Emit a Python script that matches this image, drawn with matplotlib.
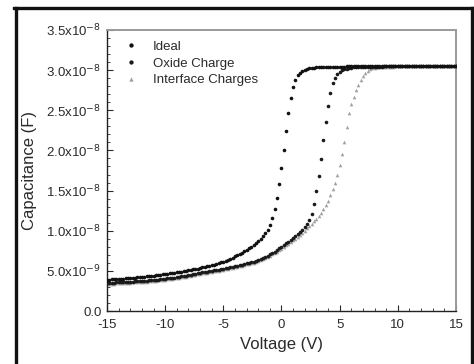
import numpy as np
import matplotlib
matplotlib.use('Agg')
import matplotlib.pyplot as plt
from matplotlib.lines import Line2D
from matplotlib.ticker import MultipleLocator, FixedLocator

plt.rcParams['font.family'] = ['Liberation Sans', 'DejaVu Sans']
plt.rcParams['axes.unicode_minus'] = False

# gate sweep, -15 V to 15 V in 0.2 V steps
voltage = np.round(np.linspace(-15, 15, 151), 1)

# capacitance in units of 1e-8 F
ideal = [
    0.390, 0.392, 0.394, 0.396, 0.398, 0.400, 0.402, 0.404, 0.406, 0.408, 0.410, 0.413, 0.416,
    0.419, 0.422, 0.425, 0.428, 0.431, 0.434, 0.437, 0.440, 0.444, 0.448, 0.452, 0.456, 0.460,
    0.464, 0.468, 0.472, 0.476, 0.480, 0.485, 0.490, 0.495, 0.500, 0.505, 0.511, 0.517, 0.523,
    0.529, 0.535, 0.542, 0.549, 0.556, 0.563, 0.570, 0.578, 0.587, 0.596, 0.605, 0.615,
    0.627, 0.640, 0.653, 0.666, 0.680, 0.695, 0.710, 0.726, 0.743, 0.760, 0.780, 0.801, 0.823,
    0.846, 0.870, 0.898, 0.930, 0.968, 1.015, 1.075, 1.155, 1.265, 1.405, 1.580, 1.780,
    2.010, 2.240, 2.460, 2.650, 2.790, 2.880, 2.935, 2.970, 2.992, 3.006, 3.015, 3.022, 3.027,
    3.031, 3.034, 3.036, 3.038, 3.040, 3.041, 3.042, 3.043, 3.043, 3.044, 3.044, 3.045,
    3.045, 3.045, 3.046, 3.046, 3.046, 3.046, 3.047, 3.047, 3.047, 3.047, 3.047, 3.048, 3.048,
    3.048, 3.048, 3.048, 3.048, 3.049, 3.049, 3.049, 3.049, 3.049, 3.049, 3.049, 3.050,
    3.050, 3.050, 3.050, 3.050, 3.050, 3.050, 3.050, 3.050, 3.050, 3.050, 3.050, 3.050, 3.050,
    3.050, 3.050, 3.050, 3.050, 3.050, 3.050, 3.050, 3.050, 3.050, 3.050, 3.050, 3.050,
]

oxide = [
    0.350, 0.351, 0.353, 0.354, 0.356, 0.357, 0.359, 0.360, 0.362, 0.363, 0.365, 0.367, 0.369,
    0.371, 0.373, 0.375, 0.377, 0.379, 0.381, 0.383, 0.386, 0.389, 0.392, 0.395, 0.398, 0.401,
    0.405, 0.409, 0.413, 0.417, 0.421, 0.426, 0.431, 0.436, 0.441, 0.446, 0.452, 0.458, 0.464,
    0.470, 0.476, 0.481, 0.486, 0.491, 0.496, 0.501, 0.506, 0.511, 0.516, 0.521, 0.527,
    0.533, 0.539, 0.545, 0.551, 0.557, 0.564, 0.571, 0.578, 0.585, 0.592, 0.600, 0.608, 0.616,
    0.625, 0.636, 0.648, 0.661, 0.675, 0.690, 0.706, 0.723, 0.741, 0.760, 0.780, 0.800,
    0.820, 0.841, 0.862, 0.884, 0.907, 0.931, 0.957, 0.985, 1.015, 1.048, 1.085, 1.135, 1.210,
    1.335, 1.490, 1.680, 1.895, 2.125, 2.350, 2.555, 2.720, 2.835, 2.908, 2.953, 2.981,
    2.999, 3.011, 3.019, 3.025, 3.029, 3.033, 3.035, 3.037, 3.039, 3.041, 3.042, 3.043, 3.043,
    3.044, 3.044, 3.045, 3.045, 3.045, 3.046, 3.046, 3.046, 3.047, 3.047, 3.047, 3.048,
    3.048, 3.048, 3.048, 3.049, 3.049, 3.049, 3.049, 3.049, 3.050, 3.050, 3.050, 3.050, 3.050,
    3.050, 3.050, 3.050, 3.050, 3.050, 3.050, 3.050, 3.050, 3.050, 3.050, 3.050, 3.050,
]

interface = [
    0.338, 0.339, 0.341, 0.342, 0.344, 0.345, 0.347, 0.348, 0.350, 0.351, 0.353, 0.355, 0.357,
    0.359, 0.361, 0.363, 0.365, 0.367, 0.369, 0.371, 0.374, 0.377, 0.380, 0.383, 0.386, 0.389,
    0.393, 0.397, 0.401, 0.405, 0.409, 0.414, 0.419, 0.424, 0.429, 0.434, 0.440, 0.446, 0.452,
    0.458, 0.464, 0.469, 0.474, 0.479, 0.484, 0.489, 0.494, 0.499, 0.504, 0.509, 0.515,
    0.521, 0.527, 0.533, 0.539, 0.545, 0.552, 0.559, 0.566, 0.573, 0.580, 0.588, 0.596, 0.604,
    0.613, 0.623, 0.634, 0.646, 0.659, 0.673, 0.688, 0.704, 0.721, 0.739, 0.758, 0.777,
    0.796, 0.816, 0.836, 0.857, 0.879, 0.901, 0.924, 0.948, 0.973, 1.000, 1.028, 1.057, 1.087,
    1.118, 1.150, 1.185, 1.225, 1.270, 1.320, 1.375, 1.440, 1.515, 1.600, 1.700, 1.815,
    1.950, 2.110, 2.290, 2.460, 2.580, 2.670, 2.750, 2.820, 2.880, 2.930, 2.965, 2.990, 3.010,
    3.022, 3.030, 3.035, 3.038, 3.040, 3.042, 3.043, 3.044, 3.045, 3.045, 3.046, 3.046,
    3.047, 3.047, 3.047, 3.048, 3.048, 3.048, 3.048, 3.049, 3.049, 3.049, 3.049, 3.050, 3.050,
    3.050, 3.050, 3.050, 3.050, 3.050, 3.050, 3.050, 3.050, 3.050, 3.050, 3.050, 3.050,
]

series_names = ['Ideal', 'Oxide Charge', 'Interface Charges']
y_ticks = [0.0, 0.5, 1.0, 1.5, 2.0, 2.5, 3.0, 3.5]
y_tick_labels = ['0.0', '5.0x10$^{-9}$', '1.0x10$^{-8}$', '1.5x10$^{-8}$',
                 '2.0x10$^{-8}$', '2.5x10$^{-8}$', '3.0x10$^{-8}$', '3.5x10$^{-8}$']

text_color = '#2a2a2a'

fig = plt.figure(figsize=(4.74, 3.64), dpi=100)
ax = fig.add_axes([0.2257, 0.1456, 0.7363, 0.772])

# interface curve underneath, then the two black ones on top
ax.plot(voltage, interface, linestyle='none', marker='^', ms=2.6,
        color='#a0a0a0', mec='none', label=series_names[2], zorder=2)
ax.plot(voltage, oxide, linestyle='none', marker='o', ms=2.6,
        color='#1a1a1a', mec='none', label=series_names[1], zorder=3)
ax.plot(voltage, ideal, linestyle='none', marker='o', ms=2.6,
        color='#111111', mec='none', label=series_names[0], zorder=4)

ax.set_xlim(-15, 15)
ax.set_ylim(0, 3.5)
ax.xaxis.set_major_locator(MultipleLocator(5))
ax.xaxis.set_minor_locator(MultipleLocator(1))
ax.yaxis.set_major_locator(FixedLocator(y_ticks))
ax.yaxis.set_minor_locator(MultipleLocator(0.1))
ax.set_yticklabels(y_tick_labels)

ax.tick_params(which='both', direction='in', colors=text_color, labelsize=9.5)
ax.tick_params(which='major', length=4, width=0.8)
ax.tick_params(which='minor', length=2, width=0.6)
ax.tick_params(axis='y', pad=4)
ax.tick_params(axis='x', pad=6)

for side in ['left', 'bottom']:
    ax.spines[side].set_color('#222222')
    ax.spines[side].set_linewidth(1.0)
for side in ['top', 'right']:
    ax.spines[side].set_color('#9a9a9a')
    ax.spines[side].set_linewidth(1.4)

ax.set_xlabel('Voltage (V)', fontsize=12, color=text_color, labelpad=4)
ax.set_ylabel('Capacitance (F)', fontsize=12, color=text_color, labelpad=7)

handles, labels = ax.get_legend_handles_labels()
order = [2, 1, 0]
ax.legend([handles[i] for i in order], [labels[i] for i in order],
          loc='upper left', bbox_to_anchor=(0.015, 1.005), frameon=False,
          fontsize=9.5, markerscale=1.2, handlelength=1.0, handletextpad=1.2,
          labelspacing=0.35, labelcolor=text_color)

# outer picture frame
fig.add_artist(Line2D([15.5 / 474, 15.5 / 474], [0, 1 - 8 / 364], color='#111111', lw=2.4))
fig.add_artist(Line2D([14 / 474, 473 / 474], [1 - 8 / 364, 1 - 8 / 364], color='#111111', lw=2.4))
fig.add_artist(Line2D([471.5 / 474, 471.5 / 474], [0, 1 - 8 / 364], color='#111111', lw=2.4))

fig.savefig('out.png', dpi=100)
